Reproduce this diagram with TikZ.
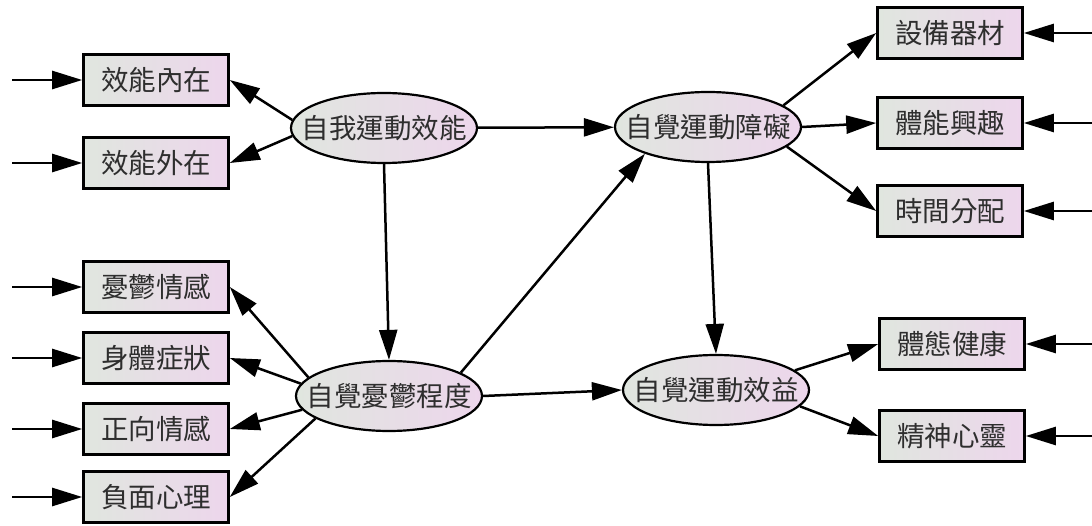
\documentclass[tikz,border=0pt]{standalone}
\usepackage{fontspec}
\newfontfamily\cjk{Noto Sans CJK TC}
\usetikzlibrary{shapes.geometric}
\usetikzlibrary{arrows.meta}
\definecolor{fillL}{HTML}{E0E6DF}
\definecolor{fillR}{HTML}{EDD6EC}
\definecolor{ink}{HTML}{2E2E2E}
\newcommand{\zw}[1]{\makebox[0pt]{#1}} % zero width text, so the ellipse keeps its size
\tikzset{x=1pt,y=-1pt,
latent/.style=
    { % Sets the properties for each factor
        ellipse,draw,line width=2.2pt,
        minimum width=186pt,minimum height=70pt,inner sep=0pt,
        left color=fillL,right color=fillR,
        text=ink,font=\cjk\fontsize{27.5pt}{30pt}\selectfont
    },
    observed/.style={ % Sets the properties for each item
        rectangle,draw,line width=2.6pt,
        minimum width=145pt,minimum height=51pt,inner sep=0pt,
        left color=fillL,right color=fillR,
        text=ink,font=\cjk\fontsize{27.5pt}{30pt}\selectfont
    },
    every edge/.style={ % Sets the properties for each path
        draw,
        -{Triangle[length=30pt,width=18pt]}, % Big filled heads
        line width=2.5pt
    }
}
\begin{document}
\begin{tikzpicture}
\useasboundingbox (0,0) rectangle (1092,526);
\node [latent] (1) at (384,128) {\zw{自我運動效能}};
\node [latent] (2) at (389,396) {\zw{自覺憂鬱程度}};
\node [latent] (3) at (708,127) {\zw{自覺運動障礙}};
\node [latent] (4) at (716,390) {\zw{自覺運動效益}};

\node [observed] (5)  at (156,80)  {效能內在};
\node [observed] (6)  at (156,163) {效能外在};
\node [observed] (7)  at (156,287) {憂鬱情感};
\node [observed] (8)  at (156,358) {身體症狀};
\node [observed] (9)  at (156,429) {正向情感};
\node [observed] (10) at (156,497) {負面心理};
\node [observed] (11) at (950,33)  {設備器材};
\node [observed] (12) at (950,123) {體能興趣};
\node [observed] (13) at (950,211) {時間分配};
\node [observed] (14) at (952,344) {體態健康};
\node [observed] (15) at (952,436) {精神心靈};

% error terms
\coordinate (e5)  at (12,80);
\coordinate (e6)  at (12,163);
\coordinate (e7)  at (12,287);
\coordinate (e8)  at (12,358);
\coordinate (e9)  at (12,429);
\coordinate (e10) at (12,497);
\coordinate (e11) at (1092,33);
\coordinate (e12) at (1092,123);
\coordinate (e13) at (1092,211);
\coordinate (e14) at (1092,344);
\coordinate (e15) at (1092,436);

\draw
    (1) edge (3)
    (1.south) edge (2.north)
    (2.18) edge (3.203)
    (2.east) edge (4.west)
    (3.south) edge (4.north)

    (1.175) edge (5.east)
    (1.185) edge (6.east)
    (2.167) edge (7.east)
    (2.172) edge (8.east)
    (2.189) edge (9.east)
    (2.197) edge (10.east)

    (3.16) edge (11.west)
    (3.east) edge (12.west)
    (3.346) edge (13.west)
    (4.14) edge (14.west)
    (4.349) edge (15.west)

    (e5) edge (5) (e6) edge (6) (e7) edge (7)
    (e8) edge (8) (e9) edge (9) (e10) edge (10)
    (e11) edge (11) (e12) edge (12) (e13) edge (13)
    (e14) edge (14) (e15) edge (15)
    ;
\end{tikzpicture}
\end{document}
